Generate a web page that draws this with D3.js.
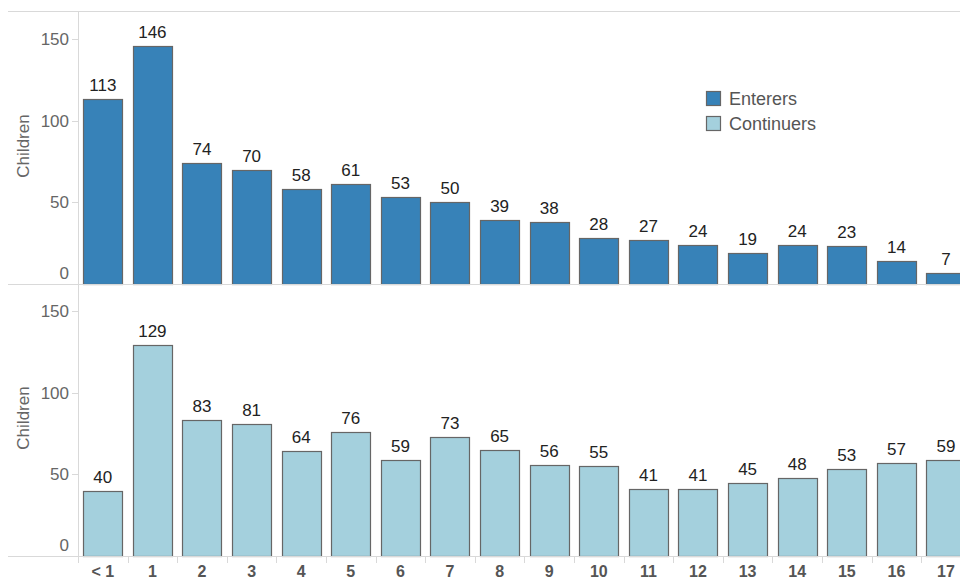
<!DOCTYPE html>
<html lang="en">
<head>
<meta charset="utf-8">
<title>Enterers and Continuers by age</title>
<script src="https://cdn.jsdelivr.net/npm/d3@7"></script>
<style>
  body { margin: 0; background: #fff; }
  svg { display: block; font-family: Arial, "Liberation Sans", sans-serif; }
</style>
</head>
<body>
<script>
// data
var ages = ["< 1", "1", "2", "3", "4", "5", "6", "7", "8", "9", "10", "11", "12", "13", "14", "15", "16", "17"];
var enterers = [113, 146, 74, 70, 58, 61, 53, 50, 39, 38, 28, 27, 24, 19, 24, 23, 14, 7];
var continuers = [40, 129, 83, 81, 64, 76, 59, 73, 65, 56, 55, 41, 41, 45, 48, 53, 57, 59];
var yTicks = [0, 50, 100, 150];
var seriesNames = ["Enterers", "Continuers"];
var seriesColors = ["#3782b8", "#a4d0dd"];

var w = 960, h = 579;
var axisX = 78;

var svg = d3.select("body").append("svg")
    .attr("width", w)
    .attr("height", h);

var xScale = d3.scaleBand()
    .domain(ages)
    .range([axisX, axisX + ages.length * 49.6])
    .paddingInner(0.21)
    .paddingOuter(0.105);

// two panels, top and bottom
var panels = [
  { values: enterers, color: seriesColors[0], mid: 146, zero: 284 },
  { values: continuers, color: seriesColors[1], mid: 418, zero: 556 }
];

// top border line
svg.append("line")
    .attr("x1", 8).attr("x2", w)
    .attr("y1", 11.5).attr("y2", 11.5)
    .attr("stroke", "#d9d9d9");

// vertical axis line
svg.append("line")
    .attr("x1", axisX + 0.5).attr("x2", axisX + 0.5)
    .attr("y1", 11).attr("y2", 563)
    .attr("stroke", "#d9d9d9");

panels.forEach(function(p) {
  var yScale = d3.scaleLinear()
      .domain([0, 150])
      .range([p.zero, p.zero - 245]);

  var g = svg.append("g");

  // y ticks
  g.selectAll(".ytick")
      .data(yTicks)
      .enter()
      .append("line")
      .attr("x1", axisX - 6).attr("x2", axisX)
      .attr("y1", function(d) { return Math.round(yScale(d)) + 0.5; })
      .attr("y2", function(d) { return Math.round(yScale(d)) + 0.5; })
      .attr("stroke", "#d9d9d9");

  g.selectAll(".ylab")
      .data(yTicks)
      .enter()
      .append("text")
      .attr("x", axisX - 9)
      .attr("y", function(d) { return d === 0 ? yScale(d) - 5 : yScale(d) + 6; })
      .attr("text-anchor", "end")
      .attr("font-size", "17px")
      .attr("fill", "#666")
      .text(function(d) { return d; });

  // axis title
  g.append("text")
      .attr("transform", "translate(29," + p.mid + ") rotate(-90)")
      .attr("text-anchor", "middle")
      .attr("font-size", "17px")
      .attr("fill", "#666")
      .text("Children");

  // bars
  g.selectAll("rect")
      .data(p.values)
      .enter()
      .append("rect")
      .attr("x", function(d, i) { return Math.round(xScale(ages[i])) + 0.5; })
      .attr("y", function(d) { return Math.round(yScale(d)) + 0.5; })
      .attr("width", Math.round(xScale.bandwidth()))
      .attr("height", function(d) { return p.zero - Math.round(yScale(d)); })
      .attr("fill", p.color)
      .attr("stroke", "#666")
      .attr("stroke-width", 1.2);

  // value labels
  g.selectAll(".val")
      .data(p.values)
      .enter()
      .append("text")
      .attr("x", function(d, i) { return xScale(ages[i]) + xScale.bandwidth() / 2; })
      .attr("y", function(d) { return yScale(d) - 8; })
      .attr("text-anchor", "middle")
      .attr("font-size", "17px")
      .attr("fill", "#222")
      .text(function(d) { return d; });

  // zero line
  g.append("line")
      .attr("x1", 8).attr("x2", w)
      .attr("y1", p.zero + 0.5).attr("y2", p.zero + 0.5)
      .attr("stroke", "#d9d9d9");
});

// x axis ticks at band boundaries
svg.selectAll(".xtick")
    .data(ages)
    .enter()
    .append("line")
    .attr("x1", function(d) { return Math.round(xScale(d) - xScale.step() * xScale.paddingOuter()) + 0.5; })
    .attr("x2", function(d) { return Math.round(xScale(d) - xScale.step() * xScale.paddingOuter()) + 0.5; })
    .attr("y1", 556).attr("y2", 563)
    .attr("stroke", "#d9d9d9");

svg.selectAll(".xlab")
    .data(ages)
    .enter()
    .append("text")
    .attr("x", function(d) { return xScale(d) + xScale.bandwidth() / 2; })
    .attr("y", 577)
    .attr("text-anchor", "middle")
    .attr("font-size", "16px")
    .attr("font-weight", "bold")
    .attr("fill", "#555")
    .text(function(d) { return d; });

// legend
var legend = svg.selectAll(".legend")
    .data(seriesNames)
    .enter()
    .append("g")
    .attr("transform", function(d, i) { return "translate(706," + (91 + i * 25) + ")"; });

legend.append("rect")
    .attr("x", 0.5).attr("y", 0.5)
    .attr("width", 14).attr("height", 14)
    .attr("fill", function(d, i) { return seriesColors[i]; })
    .attr("stroke", "#666")
    .attr("stroke-width", 1.2);

legend.append("text")
    .attr("x", 23)
    .attr("y", 14)
    .attr("font-size", "18px")
    .attr("fill", "#555")
    .text(function(d) { return d; });
</script>
</body>
</html>
